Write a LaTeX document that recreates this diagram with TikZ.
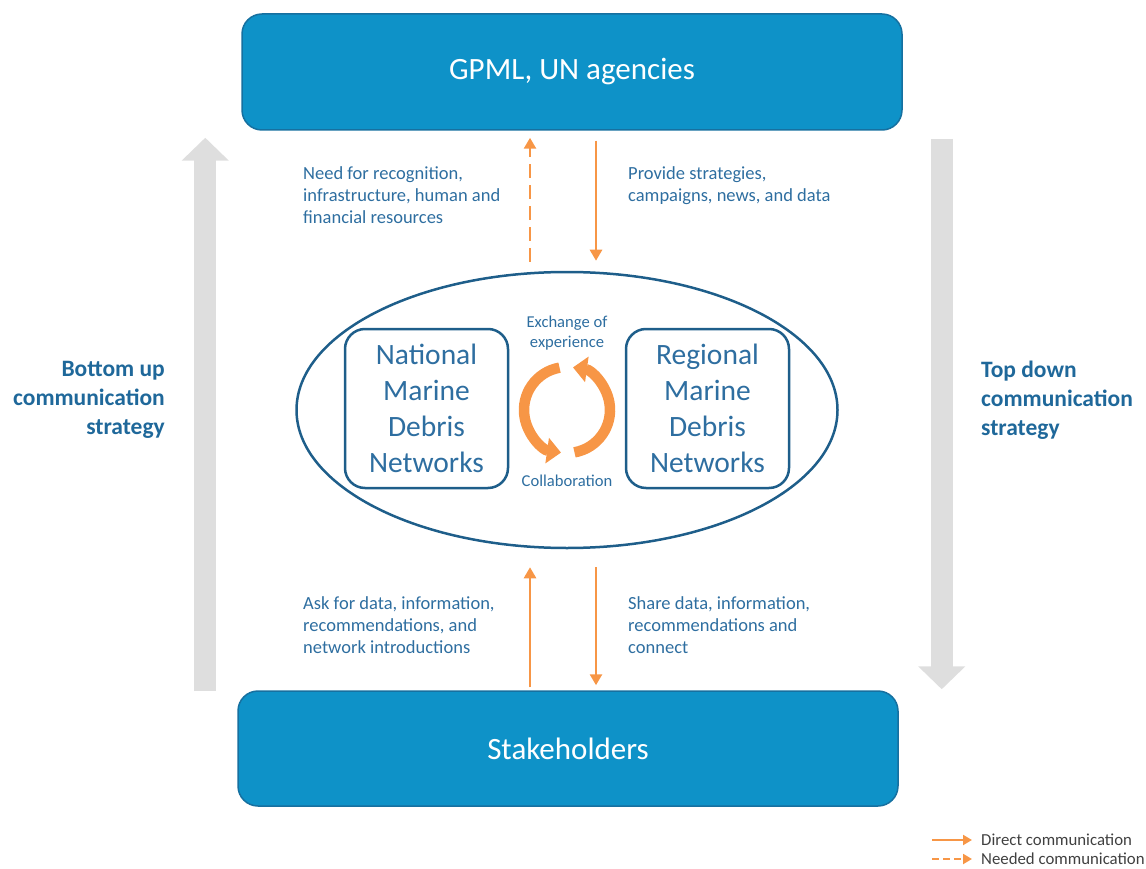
\documentclass[tikz,border=0pt]{standalone}
\usepackage{fontspec}
\setmainfont{Carlito}
\usetikzlibrary{arrows.meta,shapes.geometric,calc}

\definecolor{boxblue}{RGB}{14,146,200}
\definecolor{boxedge}{RGB}{22,112,160}
\definecolor{ink}{RGB}{46,110,160}
\definecolor{inkbold}{RGB}{31,104,154}
\definecolor{ring}{RGB}{30,94,138}
\definecolor{flow}{RGB}{247,150,70}
\definecolor{track}{RGB}{222,222,222}

\tikzset{
  actor/.style={draw=boxedge, line width=1.5pt, fill=boxblue, rounded corners=20pt,
    text=white, font=\fontsize{31}{36}\selectfont},
  network/.style={draw=ring, line width=2.5pt, rounded corners=20pt, text=ink,
    minimum width=163pt, minimum height=159pt, align=center,
    font=\fontsize{29.5}{36}\selectfont},
  note/.style={text=ink, inner sep=0pt, align=left, font=\fontsize{18.5}{22}\selectfont},
  small/.style={text=ink, inner sep=0pt, align=center, font=\fontsize{16.6}{20}\selectfont},
  side/.style={text=inkbold, inner sep=0pt, font=\fontsize{23.5}{29}\selectfont\bfseries},
  direct/.style={draw=flow, line width=2.6pt, -{Triangle[width=12pt,length=11pt]}},
  needed/.style={direct, dash pattern=on 14pt off 7pt},
  track/.style={draw=track, line width=22pt, -{Triangle[width=46pt,length=23pt]}},
  turn/.style={draw=flow, line width=10.5pt, -{Triangle[width=25pt,length=14pt]}},
}

\begin{document}
\begin{tikzpicture}[x=1pt,y=-1pt]
\useasboundingbox (0,0) rectangle (1146,869);

% main actors
\node[actor, minimum width=660pt, minimum height=116pt] (gpml) at (572,72) {GPML, UN agencies};
\node[actor, minimum width=660pt, minimum height=115pt] (stake) at (568,748.5) {Stakeholders};

% central ring with the two network boxes
\node[ellipse, draw=ring, line width=2.5pt, minimum width=541pt, minimum height=276pt] (hub) at (567,410) {};
\node[network] (national) at (426.5,408.5) {National\\Marine\\Debris\\Networks};
\node[network] (regional) at (707.5,408.5) {Regional\\Marine\\Debris\\Networks};

\node[small] (exchange) at (567,333) {Exchange of\\experience};
\node[small] (collab) at (567,481) {Collaboration};

% exchange cycle
\begin{scope}[shift={(567,410)}, y=1pt]
  \draw[turn] (100:43) arc[start angle=100, end angle=262, radius=43];
  \draw[turn] (-80:43) arc[start angle=-80, end angle=82, radius=43];
\end{scope}

% communication flows
\draw[needed] ($(hub.north)+(-37,-9)$) -- ($(gpml.south)+(-42,7)$);
\draw[direct] ($(gpml.south)+(24,10)$) -- ($(hub.north)+(29,-10)$);
\draw[direct] ($(stake.north)+(-38,-3)$) -- ($(hub.south)+(-37,18)$);
\draw[direct] ($(hub.south)+(29,18)$) -- ($(stake.north)+(28,-5)$);

\node[note, anchor=north west] (need) at (303,166) {Need for recognition,\\infrastructure, human and\\financial resources};
\node[note, anchor=north west] (provide) at (628,166) {Provide strategies,\\campaigns, news, and data};
\node[note, anchor=north west] (ask) at (303,596) {Ask for data, information,\\recommendations, and\\network introductions};
\node[note, anchor=north west] (share) at (628,596) {Share data, information,\\recommendations and\\connect};

% overall strategy directions
\draw[track] ($(stake.north west)+(-32,1)$) -- ($(gpml.south west)+(-36,7)$);
\draw[track] ($(gpml.south east)+(39,8)$) -- ($(stake.north east)+(43,-1)$);

\node[side, anchor=north east, align=right] (bottomup) at (165,361) {Bottom up\\communication\\strategy};
\node[side, anchor=north west, align=left] (topdown) at (981,361) {Top down\\communication\\strategy};

% legend
\coordinate (l1a) at (932,840);
\coordinate (l1b) at (972,840);
\coordinate (l2a) at (932,859);
\coordinate (l2b) at (972,859);
\draw[direct, line width=2pt, -{Triangle[width=10pt,length=9pt]}] (l1a) -- (l1b);
\draw[needed, line width=2pt, dash pattern=on 7pt off 4pt, -{Triangle[width=10pt,length=9pt]}] (l2a) -- (l2b);
\node[note, anchor=west, text=black!75, font=\fontsize{16.8}{18}\selectfont] (ldirect) at (981,840) {Direct communication};
\node[note, anchor=west, text=black!75, font=\fontsize{16.8}{18}\selectfont] (lneeded) at (981,859) {Needed communication};
\end{tikzpicture}
\end{document}
